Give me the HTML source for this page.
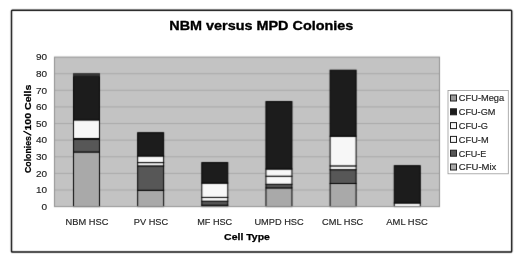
<!DOCTYPE html><html><head><meta charset="utf-8"><style>html,body{margin:0;padding:0;background:#fff;width:520px;height:261px;overflow:hidden}svg{display:block;filter:grayscale(1)}text{font-family:"Liberation Sans",sans-serif;}</style></head><body>
<svg width="520" height="261" viewBox="0 0 520 261">
<defs><filter id="bl" x="0" y="0" width="520" height="261" filterUnits="userSpaceOnUse" primitiveUnits="userSpaceOnUse" color-interpolation-filters="sRGB"><feConvolveMatrix order="3" kernelMatrix="0.0144 0.0912 0.0144 0.0912 0.5776 0.0912 0.0144 0.0912 0.0144" divisor="1" edgeMode="duplicate"/></filter></defs>
<g filter="url(#bl)">
<rect x="0" y="0" width="520" height="261" fill="#fff"/>
<rect x="11.5" y="10.2" width="500.2" height="241.8" rx="0.8" fill="none" stroke="#000" stroke-width="1.4"/>
<rect x="54.5" y="57.1" width="385.0" height="149.5" fill="#c3c3c3"/>
<rect x="54.5" y="189.49" width="385.0" height="1" fill="#a8a8a8"/>
<rect x="54.5" y="172.88" width="385.0" height="1" fill="#a8a8a8"/>
<rect x="54.5" y="156.27" width="385.0" height="1" fill="#a8a8a8"/>
<rect x="54.5" y="139.66" width="385.0" height="1" fill="#a8a8a8"/>
<rect x="54.5" y="123.04" width="385.0" height="1" fill="#a8a8a8"/>
<rect x="54.5" y="106.43" width="385.0" height="1" fill="#a8a8a8"/>
<rect x="54.5" y="89.82" width="385.0" height="1" fill="#a8a8a8"/>
<rect x="54.5" y="73.21" width="385.0" height="1" fill="#a8a8a8"/>
<rect x="73.50" y="152.0" width="26.0" height="54.60" fill="#a9a9a9" stroke="#000" stroke-width="1"/>
<rect x="73.50" y="139.3" width="26.0" height="12.70" fill="#575757" stroke="#000" stroke-width="1"/>
<rect x="73.50" y="138.5" width="26.0" height="0.80" fill="#f7f7f7" stroke="#000" stroke-width="1"/>
<rect x="73.50" y="119.9" width="26.0" height="18.60" fill="#f7f7f7" stroke="#000" stroke-width="1"/>
<rect x="73.50" y="76.0" width="26.0" height="43.90" fill="#1c1c1c" stroke="#000" stroke-width="1"/>
<rect x="73.50" y="73.7" width="26.0" height="2.30" fill="#3a3a3a" stroke="#2a2a2a" stroke-width="1"/>
<rect x="137.65" y="190.3" width="26.0" height="16.30" fill="#a9a9a9" stroke="#000" stroke-width="1"/>
<rect x="137.65" y="165.9" width="26.0" height="24.40" fill="#575757" stroke="#000" stroke-width="1"/>
<rect x="137.65" y="162.6" width="26.0" height="3.30" fill="#f7f7f7" stroke="#000" stroke-width="1"/>
<rect x="137.65" y="156.0" width="26.0" height="6.60" fill="#f7f7f7" stroke="#000" stroke-width="1"/>
<rect x="137.65" y="132.7" width="26.0" height="23.30" fill="#1c1c1c" stroke="#000" stroke-width="1"/>
<rect x="201.80" y="205.2" width="26.0" height="1.40" fill="#a9a9a9" stroke="#000" stroke-width="1"/>
<rect x="201.80" y="201.2" width="26.0" height="4.00" fill="#575757" stroke="#000" stroke-width="1"/>
<rect x="201.80" y="197.4" width="26.0" height="3.80" fill="#f7f7f7" stroke="#000" stroke-width="1"/>
<rect x="201.80" y="183.1" width="26.0" height="14.30" fill="#f7f7f7" stroke="#000" stroke-width="1"/>
<rect x="201.80" y="162.6" width="26.0" height="20.50" fill="#1c1c1c" stroke="#000" stroke-width="1"/>
<rect x="265.95" y="187.9" width="26.0" height="18.70" fill="#a9a9a9" stroke="#000" stroke-width="1"/>
<rect x="265.95" y="184.3" width="26.0" height="3.60" fill="#575757" stroke="#000" stroke-width="1"/>
<rect x="265.95" y="176.2" width="26.0" height="8.10" fill="#f7f7f7" stroke="#000" stroke-width="1"/>
<rect x="265.95" y="169.0" width="26.0" height="7.20" fill="#f7f7f7" stroke="#000" stroke-width="1"/>
<rect x="265.95" y="101.6" width="26.0" height="67.40" fill="#1c1c1c" stroke="#000" stroke-width="1"/>
<rect x="330.10" y="183.5" width="26.0" height="23.10" fill="#a9a9a9" stroke="#000" stroke-width="1"/>
<rect x="330.10" y="169.7" width="26.0" height="13.80" fill="#575757" stroke="#000" stroke-width="1"/>
<rect x="330.10" y="165.9" width="26.0" height="3.80" fill="#f7f7f7" stroke="#000" stroke-width="1"/>
<rect x="330.10" y="136.2" width="26.0" height="29.70" fill="#f7f7f7" stroke="#000" stroke-width="1"/>
<rect x="330.10" y="70.2" width="26.0" height="66.00" fill="#1c1c1c" stroke="#000" stroke-width="1"/>
<rect x="394.25" y="203.0" width="26.0" height="3.60" fill="#f7f7f7" stroke="#000" stroke-width="1"/>
<rect x="394.25" y="165.7" width="26.0" height="37.30" fill="#1c1c1c" stroke="#000" stroke-width="1"/>
<rect x="54.5" y="57.1" width="385.0" height="149.5" fill="none" stroke="#8e8e8e" stroke-width="1"/>
</g>
<text x="47" y="209.90" font-size="8.9" fill="#262626" stroke="#262626" stroke-width="0.15" text-anchor="end" textLength="5.6" lengthAdjust="spacingAndGlyphs">0</text>
<text x="47" y="193.29" font-size="8.9" fill="#262626" stroke="#262626" stroke-width="0.15" text-anchor="end" textLength="11.1" lengthAdjust="spacingAndGlyphs">10</text>
<text x="47" y="176.68" font-size="8.9" fill="#262626" stroke="#262626" stroke-width="0.15" text-anchor="end" textLength="11.1" lengthAdjust="spacingAndGlyphs">20</text>
<text x="47" y="160.07" font-size="8.9" fill="#262626" stroke="#262626" stroke-width="0.15" text-anchor="end" textLength="11.1" lengthAdjust="spacingAndGlyphs">30</text>
<text x="47" y="143.46" font-size="8.9" fill="#262626" stroke="#262626" stroke-width="0.15" text-anchor="end" textLength="11.1" lengthAdjust="spacingAndGlyphs">40</text>
<text x="47" y="126.84" font-size="8.9" fill="#262626" stroke="#262626" stroke-width="0.15" text-anchor="end" textLength="11.1" lengthAdjust="spacingAndGlyphs">50</text>
<text x="47" y="110.23" font-size="8.9" fill="#262626" stroke="#262626" stroke-width="0.15" text-anchor="end" textLength="11.1" lengthAdjust="spacingAndGlyphs">60</text>
<text x="47" y="93.62" font-size="8.9" fill="#262626" stroke="#262626" stroke-width="0.15" text-anchor="end" textLength="11.1" lengthAdjust="spacingAndGlyphs">70</text>
<text x="47" y="77.01" font-size="8.9" fill="#262626" stroke="#262626" stroke-width="0.15" text-anchor="end" textLength="11.1" lengthAdjust="spacingAndGlyphs">80</text>
<text x="47" y="60.40" font-size="8.9" fill="#262626" stroke="#262626" stroke-width="0.15" text-anchor="end" textLength="11.1" lengthAdjust="spacingAndGlyphs">90</text>
<text x="86.95" y="224.7" font-size="8.4" fill="#262626" stroke="#262626" stroke-width="0.15" text-anchor="middle" textLength="42.8" lengthAdjust="spacingAndGlyphs">NBM HSC</text>
<text x="151.0" y="224.7" font-size="8.4" fill="#262626" stroke="#262626" stroke-width="0.15" text-anchor="middle" textLength="34.4" lengthAdjust="spacingAndGlyphs">PV HSC</text>
<text x="214.7" y="224.7" font-size="8.4" fill="#262626" stroke="#262626" stroke-width="0.15" text-anchor="middle" textLength="35.0" lengthAdjust="spacingAndGlyphs">MF HSC</text>
<text x="279.05" y="224.7" font-size="8.4" fill="#262626" stroke="#262626" stroke-width="0.15" text-anchor="middle" textLength="49.3" lengthAdjust="spacingAndGlyphs">UMPD HSC</text>
<text x="342.7" y="224.7" font-size="8.4" fill="#262626" stroke="#262626" stroke-width="0.15" text-anchor="middle" textLength="41.2" lengthAdjust="spacingAndGlyphs">CML HSC</text>
<text x="407.0" y="224.7" font-size="8.4" fill="#262626" stroke="#262626" stroke-width="0.15" text-anchor="middle" textLength="41.4" lengthAdjust="spacingAndGlyphs">AML HSC</text>
<text x="247" y="240" font-size="9.3" font-weight="bold" fill="#000" stroke="#000" stroke-width="0.25" text-anchor="middle" textLength="45.8" lengthAdjust="spacingAndGlyphs">Cell Type</text>
<text transform="translate(31,173.0) rotate(-90)" x="0" y="0" font-size="9.3" font-weight="bold" fill="#000" stroke="#000" stroke-width="0.25" textLength="37.0" lengthAdjust="spacingAndGlyphs">Colonies</text>
<line x1="23.8" y1="131.3" x2="30.8" y2="135.1" stroke="#000" stroke-width="1.25" stroke-linecap="round"/>
<text transform="translate(31,130.6) rotate(-90)" x="0" y="0" font-size="9.3" font-weight="bold" fill="#000" stroke="#000" stroke-width="0.25" textLength="46.0" lengthAdjust="spacingAndGlyphs">100 Cells</text>
<text x="261.3" y="30.15" font-size="13" font-weight="bold" fill="#000" stroke="#000" stroke-width="0.35" text-anchor="middle" textLength="184" lengthAdjust="spacingAndGlyphs">NBM versus MPD Colonies</text>
<rect x="448" y="90.4" width="60.3" height="83.4" fill="#fff" stroke="#9a9a9a" stroke-width="0.8"/>
<rect x="450.5" y="95.00" width="6" height="6" fill="#9a9a9a" stroke="#222" stroke-width="1"/>
<text x="458.8" y="101.40" font-size="8.4" fill="#262626" stroke="#262626" stroke-width="0.15" textLength="45.4" lengthAdjust="spacingAndGlyphs">CFU-Mega</text>
<rect x="450.5" y="108.80" width="6" height="6" fill="#1c1c1c" stroke="#222" stroke-width="1"/>
<text x="458.8" y="115.20" font-size="8.4" fill="#262626" stroke="#262626" stroke-width="0.15" textLength="36.6" lengthAdjust="spacingAndGlyphs">CFU-GM</text>
<rect x="450.5" y="122.60" width="6" height="6" fill="#f7f7f7" stroke="#222" stroke-width="1"/>
<text x="458.8" y="129.00" font-size="8.4" fill="#262626" stroke="#262626" stroke-width="0.15" textLength="29.2" lengthAdjust="spacingAndGlyphs">CFU-G</text>
<rect x="450.5" y="136.40" width="6" height="6" fill="#f7f7f7" stroke="#222" stroke-width="1"/>
<text x="458.8" y="142.80" font-size="8.4" fill="#262626" stroke="#262626" stroke-width="0.15" textLength="29.8" lengthAdjust="spacingAndGlyphs">CFU-M</text>
<rect x="450.5" y="150.20" width="6" height="6" fill="#575757" stroke="#222" stroke-width="1"/>
<text x="458.8" y="156.60" font-size="8.4" fill="#262626" stroke="#262626" stroke-width="0.15" textLength="27.6" lengthAdjust="spacingAndGlyphs">CFU-E</text>
<rect x="450.5" y="164.00" width="6" height="6" fill="#a9a9a9" stroke="#222" stroke-width="1"/>
<text x="458.8" y="170.40" font-size="8.4" fill="#262626" stroke="#262626" stroke-width="0.15" textLength="37.6" lengthAdjust="spacingAndGlyphs">CFU-Mix</text>
</svg></body></html>
